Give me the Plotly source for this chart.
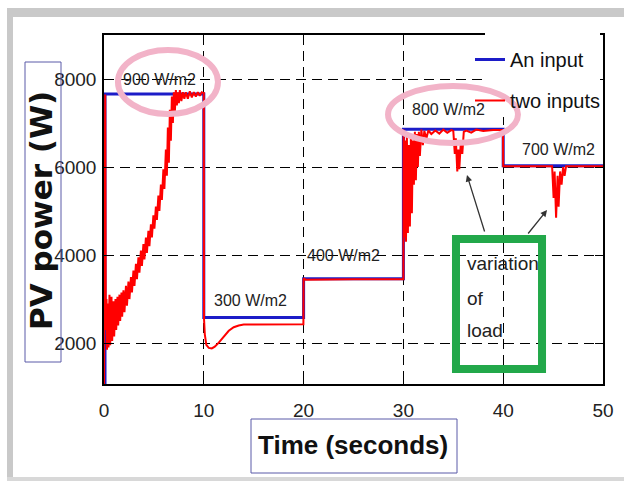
import plotly.graph_objects as go

# ---------------- data ----------------
x_ticks = [0, 10, 20, 30, 40, 50]
y_ticks = [2000, 4000, 6000, 8000]

# "An input" (blue) – step response
one_t = [0, 0.1, 0.1, 10, 10, 20, 20, 30, 30, 40, 40, 50]
one_p = [1000, 1000, 7660, 7660, 2580, 2580, 3460, 3460, 6860, 6860, 6030, 6030]

# "two inputs" (red)
two_t_a = [0.00, 0.05, 0.12, 0.18, 0.25, 0.30, 0.38, 0.45, 0.55, 0.62, 0.75, 0.82, 0.95, 1.02,
           1.15, 1.22, 1.35, 1.42, 1.55, 1.62, 1.75, 1.82, 1.95, 2.05, 2.2, 2.3, 2.45, 2.55,
           2.7, 2.8, 2.95, 3.05, 3.2, 3.3, 3.45, 3.55, 3.7, 3.8, 3.95, 4.05, 4.2, 4.3, 4.45,
           4.55, 4.7, 4.8, 4.95, 5.05, 5.2, 5.3, 5.45, 5.55, 5.7, 5.8, 5.95, 6.05, 6.2, 6.3,
           6.4, 6.5, 6.6, 6.7, 6.8, 6.9, 7.0, 7.1, 7.2, 7.3, 7.4, 7.5, 7.6, 7.75, 7.9, 8.05,
           8.2, 8.4, 8.6, 8.8, 9.0, 9.2, 9.4, 9.6, 9.8, 9.98]
two_p_a = [1000, 7650, 7650, 2300, 3000, 1850, 2900, 1900, 3100, 1950, 3050, 2050, 2950, 2150,
           3000, 2300, 3050, 2400, 3100, 2500, 3150, 2600, 3200, 2700, 3300, 2850, 3400, 3000,
           3500, 3150, 3650, 3300, 3800, 3450, 3950, 3600, 4100, 3750, 4250, 3900, 4400, 4050, 4550,
           4200, 4700, 4400, 4900, 4600, 5100, 4800, 5350, 5000, 5600, 5250, 5950, 5500, 6400, 5800,
           6900, 6100, 7300, 6600, 7600, 7000, 7700, 7250, 7750, 7400, 7700, 7450, 7750, 7500, 7700, 7550,
           7700, 7550, 7720, 7580, 7700, 7600, 7700, 7620, 7700, 7680]
two_t_b = [10.0, 10.02, 10.1, 10.25, 10.5, 10.8, 11.1, 11.5, 12.0, 12.5, 13.0, 13.5, 14.0, 17.0, 19.98]
two_p_b = [7680, 2560, 2200, 1960, 1890, 1880, 1920, 2010, 2150, 2280, 2360, 2400, 2420, 2430, 2430]
two_t_c = [20.0, 20.2, 25.0, 29.98]
two_p_c = [3470, 3440, 3450, 3450]
two_t_d = [30.0, 30.02, 30.1, 30.18, 30.26, 30.35, 30.45, 30.55, 30.65, 30.75, 30.85, 30.95, 31.05,
           31.15, 31.25, 31.35, 31.45, 31.55, 31.65, 31.8, 31.95, 32.1, 32.3, 32.5, 32.8, 33.2,
           33.6, 34.0, 34.4, 34.8, 35.0, 35.15, 35.25, 35.4, 35.5, 35.6, 35.75, 35.9, 36.05,
           36.3, 36.8, 37.3, 38.0, 39.0, 39.98]
two_p_d = [3450, 6850, 4400, 6600, 4300, 6700, 4500, 6500, 4650, 6700, 4950, 6600, 5600,
           6800, 5700, 6750, 6000, 6800, 6250, 6850, 6500, 6820, 6650, 6830, 6750, 6830,
           6760, 6850, 6780, 6840, 6820, 6300, 6650, 5900, 6400, 5950, 6550, 6300, 6800,
           6830, 6780, 6850, 6820, 6840, 6840]
two_t_e = [40.0, 44.9, 45.05, 45.15, 45.3, 45.45, 45.55, 45.7, 45.85, 46.0, 46.15, 46.3, 50.0]
two_p_e = [6020, 6020, 5300, 5900, 4850, 5800, 5100, 5900, 5600, 6000, 5800, 6020, 6020]

two_t = two_t_a + two_t_b + two_t_c + two_t_d + two_t_e
two_p = two_p_a + two_p_b + two_p_c + two_p_d + two_p_e

series_names = ["An input", "two inputs"]
irr_labels = ["900 W/m2", "300 W/m2", "400 W/m2", "800 W/m2", "700 W/m2"]
irr_t = [5.6, 14.7, 24.0, 34.5, 45.5]
irr_p = [8000, 2960, 4000, 7310, 6390]
note_lines = ["variation", "of", "load"]

# ---------------- styling ----------------
SANS = "Liberation Sans, Arial, sans-serif"
W, H = 624, 485
L, R, T, B = 104, 21, 35, 101
PW, PH = W - L - R, H - T - B


def px(xp):
    return (xp - L) / PW


def py(yp):
    return (H - B - yp) / PH


fig = go.Figure()
fig.add_trace(go.Scatter(x=one_t, y=one_p, mode="lines", name=series_names[0],
                         legendgroup="a", line=dict(color="#1c1cc8", width=3)))
fig.add_trace(go.Scatter(x=two_t, y=two_p, mode="lines", name=series_names[1],
                         legendgroup="b", line=dict(color="#ff0000", width=2)))

shapes = []
# grey frame of the scanned figure
shapes.append(dict(type="rect", xref="paper", yref="paper", x0=px(8), x1=px(624), y0=py(17), y1=py(8),
                   fillcolor="#c9c9c9", line=dict(width=0), layer="below"))
shapes.append(dict(type="rect", xref="paper", yref="paper", x0=px(7), x1=px(13), y0=py(479), y1=py(8),
                   fillcolor="#c9c9c9", line=dict(width=0), layer="below"))
shapes.append(dict(type="rect", xref="paper", yref="paper", x0=px(7), x1=px(624), y0=py(481), y1=py(477),
                   fillcolor="#d8d8d8", line=dict(width=0), layer="below"))
# white patch behind the legend
shapes.append(dict(type="rect", xref="paper", yref="paper", x0=px(485), x1=px(600), y0=py(117), y1=py(32),
                   fillcolor="white", line=dict(width=0), layer="above"))
# axis-title boxes
shapes.append(dict(type="rect", xref="paper", yref="paper", x0=px(25), x1=px(61), y0=py(362), y1=py(62),
                   line=dict(color="#5a5aa8", width=1)))
shapes.append(dict(type="rect", xref="paper", yref="paper", x0=px(251), x1=px(457), y0=py(473), y1=py(419),
                   line=dict(color="#5a5aa8", width=1)))
# pink ellipses
shapes.append(dict(type="circle", xref="x", yref="y", x0=1.4, x1=11.42, y0=7205, y1=8660,
                   line=dict(color="#f2b3c8", width=6), layer="above"))
shapes.append(dict(type="circle", xref="x", yref="y", x0=28.46, x1=41.48, y0=6546, y1=7841,
                   line=dict(color="#f2b3c8", width=6), layer="above"))
# green box
shapes.append(dict(type="rect", xref="x", yref="y", x0=35.27, x1=43.89, y0=1409, y1=4364,
                   line=dict(color="#22a84a", width=8), layer="above"))

ann = []
for lab, t, p in zip(irr_labels, irr_t, irr_p):
    ann.append(dict(x=t, y=p, xref="x", yref="y", text=lab, showarrow=False,
                    font=dict(family=SANS, size=16, color="#222")))
for line_txt, p in zip(note_lines, [3818, 3023, 2295]):
    ann.append(dict(x=36.17, y=p, xref="x", yref="y", text=line_txt, showarrow=False,
                    xanchor="left", font=dict(family=SANS, size=19, color="#222")))
# arrows
ann.append(dict(x=36.37, y=5818, ax=38.18, ay=4500, xref="x", yref="y", axref="x", ayref="y",
                text="", showarrow=True, arrowhead=2, arrowsize=1, arrowwidth=1.3, arrowcolor="#333"))
ann.append(dict(x=44.39, y=5023, ax=42.38, ay=4455, xref="x", yref="y", axref="x", ayref="y",
                text="", showarrow=True, arrowhead=2, arrowsize=1, arrowwidth=1.3, arrowcolor="#333"))
# axis titles
ann.append(dict(x=px(41), y=py(211), xref="paper", yref="paper", text="<b>PV power (W)</b>",
                textangle=-90, showarrow=False, xanchor="center", yanchor="middle",
                font=dict(family="DejaVu Sans", size=31, color="#111")))
ann.append(dict(x=px(353), y=py(445), xref="paper", yref="paper", text="<b>Time (seconds)</b>",
                showarrow=False, xanchor="center", yanchor="middle",
                font=dict(family=SANS, size=26, color="#111")))

axis_common = dict(showline=True, linecolor="black", linewidth=1.5, mirror="ticks",
                   ticks="inside", ticklen=8, tickwidth=1.3, tickcolor="black",
                   showgrid=True, gridcolor="black", gridwidth=1.3, griddash="10px,6px",
                   zeroline=False, tickfont=dict(family=SANS, size=19, color="#222"))

fig.update_layout(
    width=W, height=H, margin=dict(l=L, r=R, t=T, b=B, autoexpand=False),
    paper_bgcolor="white", plot_bgcolor="white",
    xaxis=dict(range=[0, 50], tickvals=x_ticks, ticklabelstandoff=8, **axis_common),
    yaxis=dict(range=[1070, 9000], tickvals=y_ticks, ticklabelstandoff=2, **axis_common),
    shapes=shapes, annotations=ann,
    showlegend=True,
    legend=dict(x=px(470), y=py(40), xanchor="left", yanchor="top", bgcolor="rgba(0,0,0,0)",
                borderwidth=0, font=dict(family=SANS, size=20, color="#111"),
                traceorder="grouped", tracegroupgap=12, itemwidth=30),
)

fig.write_html("out.html")
